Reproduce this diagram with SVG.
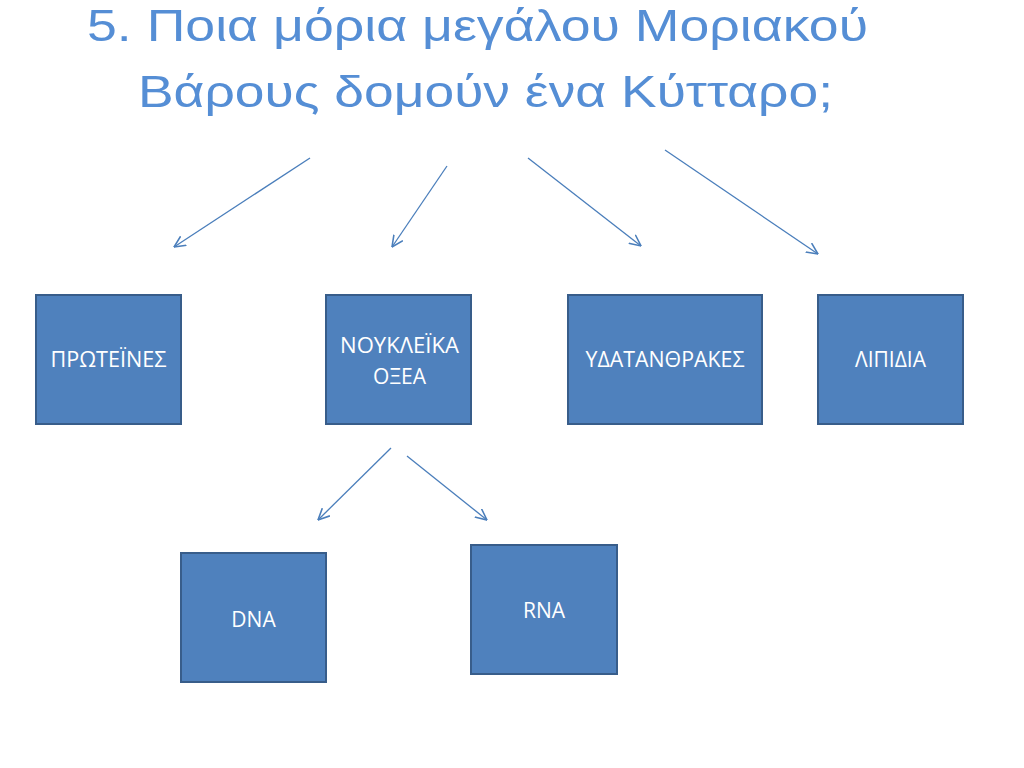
<svg xmlns="http://www.w3.org/2000/svg" width="1024" height="768" viewBox="0 0 1024 768">
  <style>
    .title { font-family: "Liberation Sans", Arial, sans-serif; font-size: 44px; fill: #558ed5; text-anchor: middle; }
    .box { fill: #4f81bd; stroke: #385d8a; stroke-width: 2; }
    .lbl { font-family: "Open Sans", "Noto Sans", "DejaVu Sans", sans-serif; font-size: 21px; fill: #ffffff; text-anchor: middle; }
    .conn { stroke: #4a7ebb; stroke-width: 1.3; fill: none; marker-end: url(#arrow); }
  </style>
  <defs>
    <marker id="arrow" viewBox="0 0 10 10" refX="9.5" refY="5" markerWidth="12" markerHeight="12" markerUnits="userSpaceOnUse" orient="auto">
      <path d="M0,0.5 L9.5,5 L0,9.5" fill="none" stroke="#4a7ebb" stroke-width="1.3"/>
    </marker>
  </defs>
  <rect width="1024" height="768" fill="#ffffff"/>
  <g id="title">
    <text class="title" x="477.5" y="41" textLength="781" lengthAdjust="spacingAndGlyphs">5. Ποια μόρια μεγάλου Μοριακού</text>
    <text class="title" x="485.5" y="107" textLength="695" lengthAdjust="spacingAndGlyphs">Βάρους δομούν ένα Κύτταρο;</text>
  </g>
  <g id="connectors">
    <line class="conn" x1="310" y1="158" x2="174" y2="247"/>
    <line class="conn" x1="447" y1="166" x2="392" y2="247"/>
    <line class="conn" x1="528" y1="158" x2="641" y2="246"/>
    <line class="conn" x1="665" y1="150" x2="818" y2="254"/>
    <line class="conn" x1="391" y1="448" x2="318" y2="520"/>
    <line class="conn" x1="407" y1="456" x2="487" y2="520"/>
  </g>
  <g id="node-proteines">
    <rect class="box" x="36" y="295" width="145" height="129"/>
    <text class="lbl" x="108.5" y="367" textLength="116" lengthAdjust="spacingAndGlyphs">ΠΡΩΤΕΪΝΕΣ</text>
  </g>
  <g id="node-noukleika">
    <rect class="box" x="326" y="295" width="145" height="129"/>
    <text class="lbl" x="399.5" y="353" textLength="119" lengthAdjust="spacingAndGlyphs">ΝΟΥΚΛΕΪΚΑ</text>
    <text class="lbl" x="399.5" y="384">ΟΞΕΑ</text>
  </g>
  <g id="node-ydatanthrakes">
    <rect class="box" x="568" y="295" width="194" height="129"/>
    <text class="lbl" x="665" y="367" textLength="159" lengthAdjust="spacingAndGlyphs">ΥΔΑΤΑΝΘΡΑΚΕΣ</text>
  </g>
  <g id="node-lipidia">
    <rect class="box" x="818" y="295" width="145" height="129"/>
    <text class="lbl" x="890.5" y="367">ΛΙΠΙΔΙΑ</text>
  </g>
  <g id="node-dna">
    <rect class="box" x="181" y="553" width="145" height="129"/>
    <text class="lbl" x="253.5" y="627">DNA</text>
  </g>
  <g id="node-rna">
    <rect class="box" x="471" y="545" width="146" height="129"/>
    <text class="lbl" x="544" y="618">RNA</text>
  </g>
</svg>
